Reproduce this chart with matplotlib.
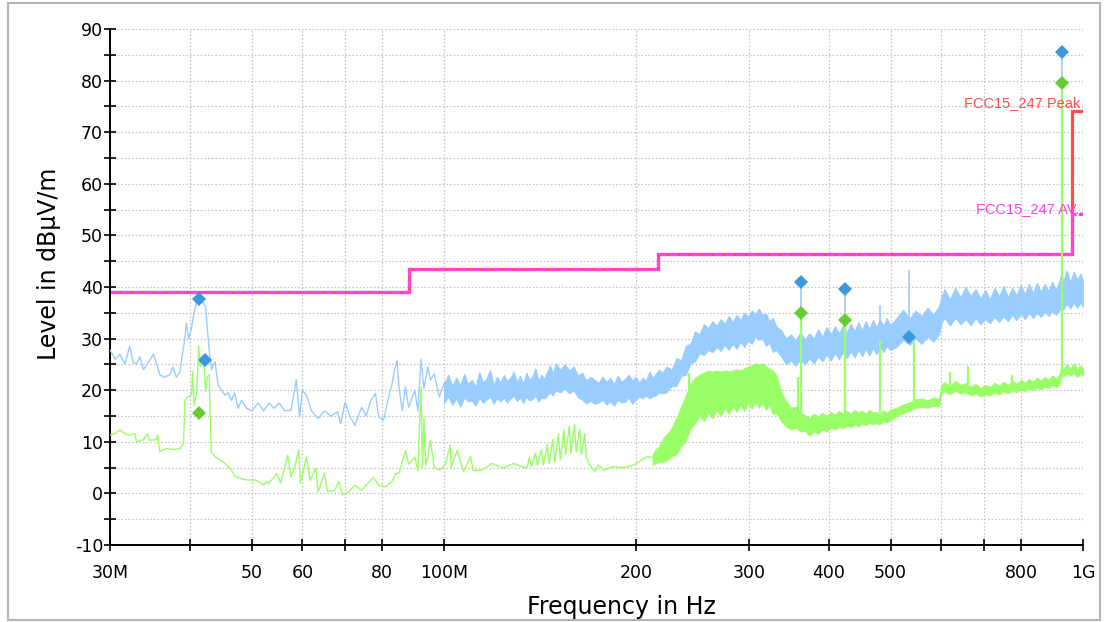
import matplotlib
matplotlib.use("Agg")
import matplotlib.pyplot as plt
from matplotlib.ticker import FixedLocator, FixedFormatter, MultipleLocator
from matplotlib.patches import Rectangle

# ---------------- data (frequency in MHz, level in dBuV/m) ----------------
# Peak trace, 30-100 MHz (line)
peak_line_f = [30, 30.55, 31.1, 31.65, 32.2, 32.6, 33.0, 33.4, 33.85, 34.5, 35.1, 35.6, 35.9,
               36.5, 37.2, 37.65, 38.1, 38.6, 38.95, 39.3, 39.5, 39.85, 40.25, 40.6, 41.0, 41.5,
               42.0, 42.35, 42.6, 42.9, 43.25, 43.8, 44.3, 44.85, 45.4, 45.9, 46.5, 47.0, 47.6,
               48.2, 49.1, 50.0, 51.2, 52.2, 53.2, 54.2, 55.2, 56.3, 57.6, 58.7, 59.4, 60.0,
               60.9, 62.0, 63.5, 65.0, 66.5, 68.1, 68.9, 70.0, 71.3, 72.5, 74.3, 75.5, 76.8,
               78.1, 79.0, 80.4, 81.8, 82.7, 83.7, 84.4, 85.1, 86.0, 87.0, 88.0, 90.0, 91.0,
               92.0, 93.0, 94.3, 95.2, 96.5, 98.3, 100.0]
peak_line_v = [27.8, 26.0, 27.0, 25.0, 28.5, 25.5, 25.0, 26.5, 24.0, 25.5, 27.0, 24.5, 23.0,
               22.5, 23.0, 24.5, 22.5, 23.5, 27.0, 30.0, 33.0, 30.0, 32.0, 35.0, 37.0, 38.0,
               37.0, 36.0, 32.0, 27.5, 24.0, 25.5, 21.0, 20.0, 19.0, 19.5, 18.0, 19.5, 16.5,
               18.0, 16.5, 16.0, 17.5, 16.0, 17.5, 16.5, 17.5, 16.0, 16.1, 22.0, 14.8, 20.0,
               19.0, 16.0, 14.5, 16.0, 15.0, 15.8, 13.5, 17.7, 14.8, 13.2, 16.7, 15.0, 18.0,
               19.4, 14.8, 14.2, 18.4, 20.6, 24.0, 25.7, 20.0, 16.0, 20.6, 16.7, 20.0, 16.0,
               26.0, 20.3, 24.5, 22.0, 23.2, 18.7, 21.3]

# Frequencies of the dense band part, 100 MHz - 1 GHz
band_f = [100, 101.5, 103, 104.5, 106, 107.5, 109, 110.5, 112, 113.5,
          115, 116.5, 118, 119.5, 121, 122.5, 124, 125.5, 127, 128.5,
          130, 131.5, 133, 134.5, 136, 137.5, 139, 140.5, 142, 143.5,
          145, 146.5, 148, 149.5,
          152, 154.5, 157, 159.5, 162, 164.5, 167, 169.5, 172, 174.5,
          177, 179.5, 182, 184.5, 187, 189.5, 192, 194.5, 197, 199.5,
          202, 204.5, 207, 209.5, 212, 214.5, 217, 219.5,
          223, 227, 231, 235, 239, 243, 247, 251, 255, 259,
          263, 267, 271, 275, 279, 283, 287, 291, 295, 299,
          303, 307, 311, 315, 319, 323, 327, 331,
          337, 343, 349, 355, 361, 367, 373, 379, 385, 391,
          397, 403, 409, 415, 421, 427, 433, 439, 445, 451,
          457, 463, 469, 475, 481, 487, 493, 499,
          511, 523, 535, 547, 559, 571, 583, 595, 600, 607,
          619, 631, 643, 655, 667, 679, 691, 703, 715, 727,
          739, 751, 763, 775, 787, 799, 811, 823, 835, 847,
          859, 871, 883, 895, 907, 919, 925, 931, 943, 955,
          967, 979, 991, 1000]

peak_band_hi = [21.3, 23.0, 20.8, 22.4, 21.0, 23.2, 21.2, 22.0, 20.6, 23.5,
                21.5, 22.2, 24.0, 21.0, 22.6, 21.4, 23.0, 21.8, 22.4, 23.6,
                21.5, 22.8, 21.2, 23.4, 22.0, 22.6, 24.2, 21.8, 23.0, 22.2,
                23.6, 24.8, 23.2, 25.2,
                24.0, 25.0, 23.8, 24.6, 22.8, 23.4, 21.8, 22.6, 22.0, 21.4,
                22.6, 21.6, 22.4, 21.2, 22.8, 21.6, 22.2, 23.0, 21.8, 22.6,
                21.4, 22.4, 21.8, 23.6, 22.4, 23.2, 24.0, 23.4,
                24.6, 24.0, 26.2, 25.8, 28.6, 29.0, 31.4, 30.8, 32.8, 32.0,
                33.4, 32.4, 33.8, 32.8, 34.4, 33.2, 34.6, 33.6, 35.0, 34.2,
                35.4, 34.8, 35.8, 34.6, 34.8, 33.4, 34.0, 32.4,
                31.6, 30.0, 30.8, 29.6, 31.2, 29.8, 31.0, 30.0, 31.8, 30.4,
                32.2, 30.8, 32.4, 31.0, 32.6, 31.2, 32.8, 31.4, 33.2, 31.6,
                33.4, 31.8, 33.6, 32.2, 33.8, 32.4, 34.0, 32.6,
                34.0, 35.6, 33.8, 35.4, 34.4, 36.0, 34.6, 36.2, 38.0, 39.6,
                37.6, 39.8, 38.0, 40.0, 38.2, 39.6, 37.8, 39.4, 37.6, 39.8,
                38.2, 40.2, 38.0, 39.8, 38.4, 40.4, 38.6, 40.6, 38.8, 40.8,
                39.0, 40.6, 39.2, 41.0, 39.4, 41.2, 42.8, 41.0, 43.2, 40.8,
                43.0, 41.4, 42.6, 41.0]
peak_band_lo = [17.6, 18.8, 17.2, 18.4, 16.8, 18.6, 17.8, 18.0, 17.0, 18.6,
                17.6, 18.2, 18.8, 17.4, 18.5, 17.8, 18.6, 17.6, 18.4, 18.9,
                17.9, 18.6, 17.5, 18.8, 18.0, 18.3, 19.0, 17.8, 18.6, 18.4,
                19.0, 19.6, 19.0, 20.0,
                19.6, 20.4, 19.4, 20.0, 18.6, 18.2, 17.4, 18.0, 17.4, 17.6,
                18.2, 17.2, 17.8, 17.0, 18.2, 17.6, 17.8, 18.6, 17.4, 18.2,
                18.8, 18.4, 19.0, 18.4, 18.8, 19.0, 19.6, 19.4,
                19.6, 20.8, 20.8, 22.8, 23.0, 25.2, 25.6, 27.2, 26.8, 27.8,
                27.4, 28.4, 27.6, 28.8, 27.8, 29.0, 28.0, 29.4, 28.4, 29.6,
                29.0, 30.4, 29.8, 30.0, 28.6, 29.2, 27.4, 27.8,
                26.6, 25.0, 25.8, 24.8, 26.0, 25.0, 26.2, 25.2, 26.6, 25.6,
                27.0, 25.8, 27.2, 26.0, 27.4, 26.2, 27.6, 26.4, 27.8, 26.6,
                28.0, 26.8, 28.2, 27.0, 28.4, 27.4, 28.6, 27.8,
                28.4, 29.8, 28.8, 30.0, 29.0, 30.4, 29.4, 30.8, 33.0, 34.0,
                32.6, 34.0, 32.8, 33.8, 32.6, 34.0, 32.8, 33.8, 33.0, 34.2,
                33.2, 34.4, 33.4, 34.6, 33.6, 34.8, 33.8, 35.0, 34.0, 35.0,
                34.2, 35.2, 34.4, 35.4, 34.6, 35.6, 36.6, 35.6, 36.8, 35.8,
                37.0, 36.0, 37.0, 36.2]

peak_spike_f = [362, 424, 481, 534, 928]
peak_spike_base = [30.0, 31.5, 32.5, 33.5, 40.0]
peak_spike_top = [41.0, 39.8, 36.6, 43.3, 85.6]

# Average trace, 30-212 MHz (line)
avg_line_f = [30, 30.55, 31.1, 31.65, 32.2, 32.8, 33.0, 33.85, 34.3, 34.6, 35.4, 35.6, 35.9,
              36.7, 37.65, 38.6, 39.1, 39.3, 39.85, 40.25, 40.4, 40.6, 41.0, 41.3, 41.5, 41.8,
              42.1, 42.35, 42.6, 42.9, 43.2, 43.8, 44.6, 45.4, 46.5, 47.1, 49.0, 50.8, 52.2,
              52.7, 53.2, 54.7, 55.5, 56.9, 57.6, 58.5, 59.2, 59.6, 60.0, 60.9, 61.7, 63.0,
              63.5, 65.0, 65.7, 67.4, 68.5, 69.3, 70.9, 72.5, 74.3, 75.5, 77.5, 79.0, 81.0,
              82.9, 84.0, 85.1, 87.0, 88.0, 90.0, 91.0, 92.0, 92.5, 93.0, 93.6, 94.3, 95.2,
              96.5, 98.3, 100.4, 102.2, 102.6, 104.8, 107.3, 110, 111, 114.4, 118.9, 123.6,
              128.4, 133.5, 135, 136, 137, 139, 140, 142, 143, 145, 146, 148, 149, 151, 152,
              154, 155, 157, 158, 160, 161, 163, 164, 166, 167, 169, 172.3, 174.4, 178, 184,
              190, 195, 200, 204, 207.7, 212]
avg_line_v = [11.3, 11.6, 12.3, 11.5, 11.3, 11.6, 10.0, 10.4, 11.6, 10.3, 10.4, 11.3, 8.1,
              8.7, 8.5, 8.7, 9.7, 18.1, 18.8, 19.1, 23.6, 17.0, 19.4, 28.5, 24.6, 25.9,
              25.2, 19.7, 22.6, 23.0, 8.1, 7.1, 6.5, 5.8, 4.5, 3.2, 2.6, 2.6, 1.6,
              2.3, 1.9, 3.9, 2.0, 7.4, 3.2, 5.5, 8.4, 2.0, 3.6, 7.1, 2.5, 4.9,
              0.3, 3.9, 0.3, 0.6, 2.3, -0.3, 0.3, 1.6, 0.6, 1.6, 3.1, 1.6, 1.3,
              2.3, 3.8, 4.0, 8.3, 5.7, 7.0, 4.4, 20.6, 5.0, 14.8, 5.5, 7.0, 10.3,
              5.0, 4.5, 5.5, 9.3, 5.0, 8.3, 4.2, 7.1, 4.5, 4.5, 5.8, 4.9,
              5.8, 5.0, 5.2, 7.0, 5.2, 7.8, 5.4, 8.5, 5.5, 9.5, 5.8, 10.5, 6.0, 11.5, 6.5,
              12.3, 7.5, 13.0, 7.8, 13.3, 8.0, 12.5, 7.5, 11.5, 7.0, 5.5, 4.2, 5.5, 4.5, 5.2,
              5.0, 5.2, 5.8, 6.5, 7.1, 7.0]

# Average trace, 212 MHz - 1 GHz (dense band, frequencies band_f[58:])
avg_band_hi = [7.4, 8.6, 9.0, 10.4,
               11.4, 12.6, 14.6, 16.8, 19.0, 21.2, 22.4, 23.0, 23.4, 23.8,
               23.6, 23.8, 23.6, 23.8, 23.6, 23.8, 24.0, 23.8, 24.2, 24.6,
               24.8, 25.2, 25.0, 25.2, 24.6, 24.2, 23.8, 23.0,
               19.6, 17.8, 16.6, 16.8, 15.6, 15.2, 14.6, 15.4, 14.8, 15.6,
               15.0, 15.8, 15.2, 16.0, 15.4, 16.0, 15.4, 16.2, 15.6, 16.0,
               15.4, 16.2, 15.6, 15.8, 15.4, 16.0, 15.6, 16.2,
               16.6, 17.2, 17.6, 18.2, 18.4, 18.0, 18.6, 18.2, 21.0, 21.6,
               20.8, 21.8, 21.0, 21.4, 20.6, 21.2, 20.4, 21.0, 20.6, 21.4,
               20.8, 21.6, 21.0, 21.8, 21.2, 22.0, 21.4, 22.2, 21.6, 22.4,
               21.8, 22.6, 22.0, 22.8, 22.2, 23.0, 24.6, 24.0, 25.0, 24.2,
               25.2, 24.0, 24.8, 24.2]
avg_band_lo = [5.6, 5.8, 6.2, 6.0,
               6.4, 7.2, 7.6, 9.2, 10.4, 12.6, 13.6, 15.2, 14.0, 15.8,
               14.6, 16.2, 15.0, 16.6, 15.4, 17.0, 15.8, 17.2, 16.0, 17.6,
               16.4, 17.8, 16.6, 17.6, 16.2, 17.2, 15.4, 15.6,
               14.0, 13.0, 12.4, 12.8, 12.0, 12.2, 11.2, 12.0, 11.6, 12.4,
               12.0, 12.8, 12.4, 13.0, 12.6, 13.2, 12.8, 13.4, 13.0, 13.6,
               13.2, 13.8, 13.4, 13.6, 13.4, 14.0, 13.8, 14.2,
               15.0, 15.6, 16.0, 16.6, 16.8, 16.6, 17.0, 16.8, 19.4, 19.8,
               19.2, 20.0, 19.4, 19.6, 19.0, 19.4, 18.8, 19.2, 19.0, 19.6,
               19.2, 19.8, 19.4, 20.0, 19.6, 20.2, 19.8, 20.4, 20.0, 20.6,
               20.2, 20.8, 20.4, 21.0, 20.6, 21.2, 23.0, 22.6, 23.2, 22.8,
               23.4, 22.6, 23.2, 22.8]

avg_spike_f = [242, 358, 362, 424, 481, 543, 620, 660, 775, 928]
avg_spike_base = [19.0, 14.0, 14.5, 15.0, 15.5, 16.5, 21.0, 21.0, 21.5, 23.0]
avg_spike_top = [23.3, 22.6, 34.9, 33.7, 29.8, 29.6, 23.5, 24.6, 23.0, 79.5]

# Final result markers
peak_mark_f = [41.4, 42.2, 362, 424, 534, 928]
peak_mark_v = [37.7, 25.9, 41.0, 39.7, 30.4, 85.6]
avg_mark_f = [41.4, 362, 424, 928]
avg_mark_v = [15.6, 34.9, 33.7, 79.5]

# Limit lines FCC15_247
limit_f = [30, 88, 88, 216, 216, 960, 960, 1000]
limit_peak = [39.1, 39.1, 43.5, 43.5, 46.4, 46.4, 74.1, 74.1]
limit_av = [39.1, 39.1, 43.5, 43.5, 46.4, 46.4, 54.2, 54.2]

xtick_pos = [30, 40, 50, 60, 70, 80, 100, 200, 300, 400, 500, 600, 700, 800, 1000]
xtick_lab = ["30M", "", "50", "60", "", "80", "100M", "200", "300", "400", "500", "", "", "800", "1G"]

# ---------------- colours ----------------
C_PEAK = "#99ccff"
C_AVG = "#99ff66"
C_PEAK_M = "#3d97dc"
C_AVG_M = "#66cc33"
C_RED = "#ff4d4d"
C_MAG = "#ff44e6"

plt.rcParams["lines.scale_dashes"] = False
plt.rcParams["axes.unicode_minus"] = False
fig = plt.figure(figsize=(11.06, 6.22), dpi=100)
ax = fig.add_axes([110 / 1106, 1 - 545 / 622, 973 / 1106, 516 / 622])
ax.set_xscale("log")
ax.set_xlim(30, 1000)
ax.set_ylim(-10, 90)

# grid
ax.yaxis.set_major_locator(MultipleLocator(10))
ax.yaxis.set_minor_locator(MultipleLocator(5))
ax.xaxis.set_major_locator(FixedLocator(xtick_pos))
ax.xaxis.set_major_formatter(FixedFormatter(xtick_lab))
ax.xaxis.set_minor_locator(FixedLocator([]))
grid_kw = dict(color="#c4c4c4", linestyle=(0, (1.2, 1.4)), linewidth=0.9)
ax.grid(True, which="major", axis="both", **grid_kw)
ax.grid(True, which="minor", axis="y", **grid_kw)
ax.set_axisbelow(True)

for s in ("top", "right"):
    ax.spines[s].set_visible(False)
for s in ("left", "bottom"):
    ax.spines[s].set_linewidth(1.4)

ax.tick_params(axis="both", which="both", direction="inout", length=9, width=1.2,
               labelsize=12.5, colors="black")
ax.tick_params(axis="y", pad=0.5)
ax.tick_params(axis="x", pad=9)

# limit lines
ax.plot(limit_f, limit_peak, color=C_RED, lw=2.3, zorder=2, solid_joinstyle="miter")
ax.plot(limit_f, limit_av, color=C_MAG, lw=2.3, zorder=2.1, dashes=(6.5, 1.6))

# peak trace
ax.plot(peak_line_f, peak_line_v, color=C_PEAK, lw=1.0, zorder=3)
ax.fill_between(band_f, peak_band_lo, peak_band_hi, color=C_PEAK, lw=0.8,
                edgecolor=C_PEAK, zorder=3)
ax.vlines(peak_spike_f, peak_spike_base, peak_spike_top, color=C_PEAK, lw=1.2, zorder=3)

# average trace
ax.plot(avg_line_f, avg_line_v, color=C_AVG, lw=1.0, zorder=4)
ax.fill_between(band_f[58:], avg_band_lo, avg_band_hi, color=C_AVG, lw=0.8,
                edgecolor=C_AVG, zorder=4)
ax.vlines(avg_spike_f, avg_spike_base, avg_spike_top, color=C_AVG, lw=1.6, zorder=4)

# markers
ax.plot(peak_mark_f, peak_mark_v, linestyle="none", marker="D", ms=7, color=C_PEAK_M,
        markeredgewidth=0, zorder=6, clip_on=False)
ax.plot(avg_mark_f, avg_mark_v, linestyle="none", marker="D", ms=7, color=C_AVG_M,
        markeredgewidth=0, zorder=6, clip_on=False)

# limit labels
ax.text(989, 74.1 + 0.8, "FCC15_247 Peak", color=C_RED, ha="right", va="baseline",
        fontsize=10.5, family="Liberation Sans", zorder=7)
ax.text(1000, 54.2 + 0.1, "FCC15_247 AV..", color=C_MAG, ha="right", va="baseline",
        fontsize=10.5, family="Liberation Sans", zorder=7)

# axis labels
ax.set_xlabel("Frequency in Hz", fontsize=17)
ax.set_ylabel("Level in dB\u00b5V/m", fontsize=17)
ax.xaxis.set_label_coords(0.526, -0.097)
ax.yaxis.set_label_coords(-0.05, 0.545)

# outer frame
fig.patches.append(Rectangle((7.5 / 1106, 1 - 620 / 622), (1100 - 7.5) / 1106, 617 / 622,
                             transform=fig.transFigure, fill=False, edgecolor="#b4b4b4",
                             linewidth=1.5))

fig.savefig("out.png", dpi=100)
